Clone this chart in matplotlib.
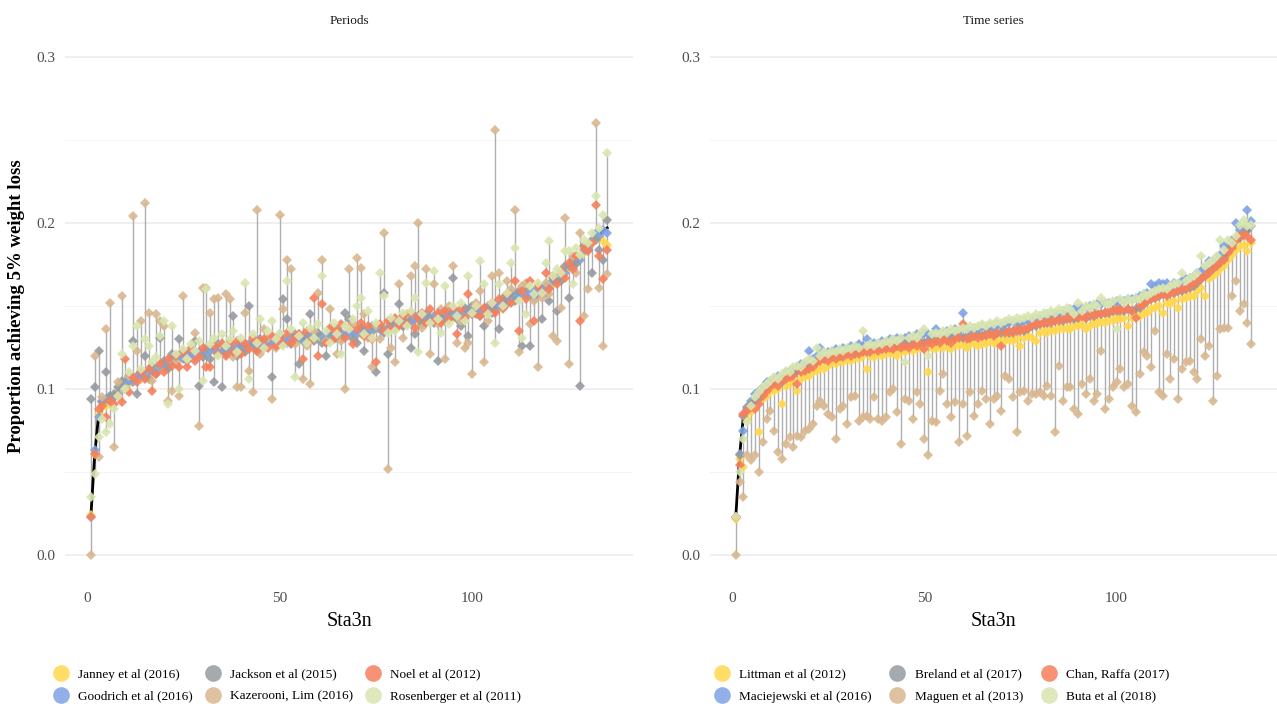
import matplotlib
matplotlib.use("Agg")
import matplotlib.pyplot as plt
from matplotlib.lines import Line2D
import numpy as np

plt.rcParams['font.family'] = ['Liberation Serif', 'DejaVu Serif']

stations = list(range(1, 136))

baseline = [
    .023, .060, .084, .088, .091, .092, .093, .098, .102, .103, .104, .105, .106, .107, .108,
    .109, .110, .111, .112, .113, .115, .117, .118, .119, .119, .120, .120, .120, .121, .121,
    .122, .122, .122, .123, .123, .123, .124, .124, .124, .125, .125, .125, .126, .126, .127,
    .127, .127, .128, .128, .128, .129, .129, .129, .130, .130, .130, .130, .131, .131, .131,
    .131, .131, .132, .132, .132, .133, .133, .133, .133, .134, .134, .134, .134, .135, .135,
    .135, .136, .137, .138, .139, .139, .140, .140, .141, .141, .141, .142, .142, .142, .143,
    .143, .143, .143, .144, .144, .145, .145, .146, .146, .147, .147, .147, .147, .147, .148,
    .149, .151, .152, .154, .155, .156, .156, .157, .157, .158, .158, .159, .160, .161, .162,
    .164, .166, .168, .171, .173, .175, .177, .179, .183, .186, .190, .192, .193, .195, .197]

# ---- Periods panel ----
janney = [
    .024, .061, .085, .089, .090, .094, .095, .099, .103, .104, .103, .106, .107, .106, .109,
    .110, .109, .112, .113, .112, .116, .116, .119, .118, .120, .121, .119, .121, .120, .122,
    .121, .123, .123, .122, .124, .124, .123, .125, .125, .124, .126, .126, .125, .127, .126,
    .128, .128, .127, .129, .129, .128, .130, .130, .131, .129, .131, .131, .130, .132, .132,
    .130, .132, .133, .131, .133, .132, .134, .134, .132, .135, .133, .135, .135, .134, .136,
    .136, .135, .138, .137, .140, .140, .139, .141, .142, .140, .142, .141, .143, .143, .142,
    .144, .144, .142, .145, .143, .146, .146, .145, .147, .146, .148, .148, .146, .148, .149,
    .150, .150, .153, .153, .156, .155, .157, .156, .158, .157, .159, .158, .161, .160, .163,
    .163, .167, .167, .172, .172, .176, .176, .180, .182, .187, .189, .193, .191, .189, .187]
goodrich = [
    .023, .063, .083, .092, .094, .096, .095, .097, .101, .104, .105, .104, .108, .108, .107,
    .111, .111, .110, .114, .115, .114, .118, .119, .120, .118, .121, .121, .119, .122, .122,
    .121, .123, .124, .122, .122, .125, .125, .123, .126, .126, .124, .127, .127, .125, .128,
    .126, .128, .129, .127, .130, .130, .128, .131, .130, .131, .129, .132, .132, .130, .133,
    .132, .130, .133, .133, .131, .134, .132, .134, .134, .133, .135, .136, .133, .135, .137,
    .136, .134, .137, .138, .140, .141, .138, .141, .140, .142, .143, .141, .143, .143, .144,
    .142, .144, .144, .143, .145, .146, .144, .147, .147, .145, .148, .146, .148, .147, .149,
    .151, .150, .152, .155, .154, .156, .157, .158, .156, .158, .159, .157, .161, .162, .161,
    .165, .165, .169, .170, .174, .174, .178, .178, .183, .185, .190, .194, .192, .196, .194]
jackson = [
    .094, .101, .123, .093, .110, .096, .097, .101, .105, .100, .108, .129, .097, .110, .120,
    .106, .114, .109, .131, .117, .112, .121, .115, .130, .122, .117, .124, .129, .102, .119,
    .125, .118, .104, .127, .101, .121, .128, .144, .120, .127, .122, .150, .128, .123, .130,
    .125, .131, .107, .126, .133, .154, .142, .127, .133, .115, .132, .128, .145, .129, .134,
    .128, .120, .135, .130, .136, .131, .146, .142, .130, .128, .137, .123, .132, .138, .110,
    .138, .158, .121, .141, .136, .151, .138, .143, .125, .133, .144, .139, .145, .141, .140,
    .117, .146, .141, .147, .167, .142, .138, .149, .132, .150, .145, .144, .138, .150, .146,
    .147, .136, .155, .151, .158, .153, .159, .126, .161, .126, .155, .162, .142, .158, .153,
    .167, .147, .165, .174, .155, .178, .175, .102, .186, .184, .170, .190, .184, .178, .202]
kazerooni = [
    .000, .120, .059, .095, .136, .152, .065, .104, .156, .100, .108, .204, .123, .141, .212,
    .146, .105, .145, .141, .138, .093, .099, .116, .096, .156, .118, .125, .134, .078, .161,
    .161, .146, .154, .155, .128, .157, .154, .119, .101, .101, .146, .111, .098, .208, .121,
    .136, .131, .094, .125, .205, .148, .178, .172, .127, .133, .106, .126, .103, .135, .158,
    .178, .129, .148, .137, .121, .129, .100, .172, .140, .179, .173, .145, .131, .113, .138,
    .130, .194, .052, .125, .116, .163, .131, .145, .168, .174, .200, .137, .172, .121, .163,
    .139, .148, .118, .150, .174, .128, .141, .125, .128, .109, .152, .159, .116, .141, .168,
    .256, .170, .148, .165, .160, .208, .122, .162, .164, .139, .153, .113, .155, .164, .157,
    .132, .129, .149, .203, .115, .180, .170, .194, .144, .160, .188, .260, .161, .126, .169]
noel = [
    .023, .061, .088, .090, .083, .093, .091, .096, .092, .118, .098, .107, .104, .110, .106,
    .112, .099, .109, .115, .110, .118, .114, .120, .113, .122, .113, .124, .117, .119, .125,
    .113, .113, .126, .121, .127, .120, .128, .122, .129, .121, .128, .124, .131, .123, .129,
    .130, .125, .132, .126, .131, .127, .134, .128, .131, .133, .118, .135, .129, .155, .120,
    .151, .128, .137, .130, .135, .139, .131, .137, .127, .136, .140, .132, .138, .130, .116,
    .139, .135, .141, .136, .143, .138, .144, .139, .146, .137, .143, .146, .140, .148, .141,
    .146, .140, .147, .142, .149, .133, .148, .143, .157, .145, .150, .144, .149, .146, .152,
    .146, .154, .149, .157, .152, .165, .135, .159, .154, .165, .141, .162, .158, .170, .160,
    .168, .163, .171, .167, .176, .172, .180, .141, .185, .183, .188, .211, .180, .166, .184]
rosenberger = [
    .035, .049, .071, .082, .074, .079, .088, .096, .121, .100, .110, .126, .138, .112, .130,
    .126, .116, .119, .132, .141, .091, .138, .121, .100, .124, .118, .127, .123, .129, .105,
    .160, .127, .131, .120, .133, .126, .130, .135, .122, .131, .164, .106, .133, .128, .142,
    .125, .135, .141, .130, .134, .126, .165, .136, .107, .132, .140, .128, .137, .131, .139,
    .168, .135, .128, .140, .133, .121, .138, .136, .142, .150, .155, .133, .147, .131, .140,
    .170, .156, .134, .143, .135, .141, .146, .138, .147, .155, .122, .145, .164, .140, .171,
    .142, .134, .162, .139, .150, .144, .152, .141, .168, .146, .150, .177, .163, .145, .152,
    .128, .163, .150, .158, .176, .185, .153, .131, .145, .162, .157, .164, .158, .176, .189,
    .168, .172, .170, .183, .183, .163, .185, .181, .190, .188, .194, .216, .197, .205, .242]

# ---- Time series panel ----
littman = [
    .022, .058, .053, .082, .086, .088, .074, .094, .096, .099, .099, .100, .091, .102, .103,
    .104, .099, .106, .107, .108, .110, .111, .113, .112, .114, .116, .115, .117, .116, .118,
    .117, .119, .118, .120, .112, .120, .119, .121, .120, .122, .121, .122, .120, .123, .122,
    .124, .123, .124, .125, .124, .110, .125, .124, .126, .125, .126, .124, .127, .126, .127,
    .125, .127, .128, .126, .128, .127, .129, .128, .128, .130, .129, .130, .129, .131, .126,
    .131, .132, .131, .129, .134, .135, .134, .136, .135, .137, .136, .137, .136, .138, .138,
    .139, .136, .138, .140, .139, .141, .140, .142, .141, .143, .142, .143, .138, .143, .144,
    .144, .146, .146, .148, .149, .150, .146, .152, .151, .153, .149, .154, .155, .156, .156,
    .159, .161, .156, .166, .168, .170, .172, .174, .178, .181, .184, .186, .187, .183, .188]
maciejewski = [
    .023, .061, .075, .088, .093, .097, .099, .101, .104, .105, .106, .108, .104, .110, .111,
    .112, .113, .115, .115, .123, .118, .120, .125, .121, .122, .123, .124, .123, .125, .124,
    .126, .125, .127, .126, .130, .127, .128, .127, .129, .128, .130, .129, .131, .130, .131,
    .132, .131, .133, .132, .134, .133, .132, .136, .133, .134, .135, .134, .136, .135, .146,
    .136, .135, .137, .136, .138, .137, .138, .137, .139, .138, .139, .140, .141, .139, .140,
    .141, .141, .142, .143, .144, .144, .145, .145, .146, .146, .147, .147, .148, .148, .149,
    .149, .149, .150, .150, .151, .151, .152, .152, .152, .153, .153, .153, .154, .154, .155,
    .156, .157, .158, .163, .162, .164, .163, .164, .161, .164, .163, .165, .166, .167, .168,
    .170, .171, .173, .177, .177, .179, .181, .186, .186, .190, .200, .196, .197, .208, .201]
breland = [
    .023, .060, .084, .089, .091, .093, .094, .098, .101, .103, .104, .106, .106, .107, .109,
    .109, .111, .111, .112, .114, .115, .117, .118, .118, .120, .120, .121, .120, .121, .122,
    .122, .121, .123, .123, .122, .124, .124, .125, .124, .125, .126, .125, .126, .127, .127,
    .127, .128, .128, .129, .128, .129, .130, .129, .130, .131, .130, .131, .131, .132, .131,
    .132, .131, .132, .133, .132, .133, .134, .133, .134, .134, .135, .134, .135, .135, .136,
    .135, .136, .138, .138, .139, .140, .140, .141, .141, .142, .141, .142, .143, .142, .143,
    .144, .143, .144, .144, .145, .145, .146, .146, .147, .147, .148, .147, .148, .147, .148,
    .149, .151, .153, .154, .155, .156, .157, .157, .158, .158, .159, .159, .160, .161, .162,
    .164, .166, .168, .171, .173, .175, .177, .179, .183, .186, .190, .191, .194, .195, .198]
maguen = [
    .000, .044, .035, .060, .057, .060, .050, .068, .082, .087, .075, .062, .058, .067, .071,
    .065, .072, .071, .075, .076, .079, .090, .093, .090, .085, .083, .070, .088, .090, .079,
    .095, .096, .081, .083, .084, .082, .095, .082, .081, .083, .098, .100, .086, .067, .094,
    .093, .082, .098, .091, .070, .060, .081, .080, .099, .109, .091, .083, .092, .068, .091,
    .072, .098, .084, .091, .099, .094, .079, .094, .096, .087, .108, .106, .095, .074, .098,
    .099, .093, .097, .097, .098, .096, .102, .096, .074, .114, .093, .101, .101, .088, .085,
    .103, .097, .106, .093, .097, .123, .088, .094, .101, .104, .112, .101, .103, .090, .086,
    .109, .122, .120, .113, .135, .098, .096, .121, .106, .118, .094, .112, .116, .117, .110,
    .106, .130, .120, .126, .093, .108, .136, .137, .137, .156, .165, .147, .151, .140, .127]
chan = [
    .023, .054, .085, .087, .089, .088, .091, .096, .099, .101, .103, .102, .105, .106, .107,
    .108, .103, .110, .111, .112, .113, .116, .117, .118, .117, .119, .118, .120, .119, .121,
    .120, .122, .121, .122, .123, .122, .124, .123, .124, .124, .125, .124, .126, .125, .126,
    .125, .127, .126, .128, .124, .128, .127, .129, .128, .130, .129, .128, .130, .131, .139,
    .130, .131, .132, .131, .132, .132, .133, .132, .134, .126, .134, .135, .134, .136, .135,
    .136, .137, .138, .139, .139, .140, .141, .140, .142, .141, .142, .143, .142, .144, .143,
    .144, .143, .145, .144, .146, .145, .146, .147, .147, .148, .147, .148, .148, .147, .143,
    .150, .151, .153, .154, .155, .156, .157, .156, .158, .158, .159, .160, .160, .162, .163,
    .165, .166, .168, .170, .172, .174, .176, .178, .182, .185, .190, .192, .193, .192, .190]
buta = [
    .023, .050, .070, .080, .090, .095, .098, .101, .103, .105, .107, .106, .109, .111, .110,
    .113, .114, .113, .116, .118, .117, .125, .120, .122, .121, .123, .122, .124, .123, .125,
    .124, .126, .125, .135, .126, .127, .126, .128, .127, .129, .128, .130, .129, .131, .116,
    .131, .132, .131, .133, .136, .120, .133, .134, .133, .135, .134, .136, .135, .136, .137,
    .136, .138, .137, .138, .139, .138, .140, .139, .141, .140, .141, .142, .141, .143, .142,
    .143, .144, .143, .145, .144, .146, .145, .147, .146, .148, .147, .149, .148, .145, .152,
    .147, .150, .149, .151, .150, .155, .152, .151, .153, .136, .154, .152, .154, .153, .155,
    .154, .157, .156, .158, .159, .160, .161, .160, .162, .163, .164, .170, .165, .167, .168,
    .170, .180, .174, .176, .178, .180, .190, .184, .190, .188, .192, .199, .202, .198, .199]

periods_names = ["Janney et al (2016)", "Goodrich et al (2016)", "Jackson et al (2015)",
                 "Kazerooni, Lim (2016)", "Noel et al (2012)", "Rosenberger et al (2011)"]
ts_names = ["Littman et al (2012)", "Maciejewski et al (2016)", "Breland et al (2017)",
            "Maguen et al (2013)", "Chan, Raffa (2017)", "Buta et al (2018)"]
colors = ["#FFD84D", "#7EA3E3", "#969BA1", "#D9B78F", "#F6805C", "#D9E6B0"]

periods_series = [janney, goodrich, jackson, kazerooni, noel, rosenberger]
ts_series = [littman, maciejewski, breland, maguen, chan, buta]

W, H = 1277, 704
fig = plt.figure(figsize=(W / 100, H / 100), dpi=100)
axL = fig.add_axes([65 / W, 124 / H, 568 / W, 548 / H])
axR = fig.add_axes([710 / W, 124 / H, 567 / W, 548 / H])

txt = "#4D4D4D"


def draw(ax, series, title):
    x = np.array(stations)
    arr = np.array(series)
    ax.vlines(x, arr.min(axis=0), arr.max(axis=0), color="#AEAEAE", lw=1.0, zorder=1)
    ax.plot(x, baseline, color="black", lw=2.0, zorder=2)
    for s, c in zip(series, colors):
        ax.plot(x, s, linestyle="none", marker="D", markersize=5.2, color=c,
                alpha=0.9, markeredgewidth=0, zorder=3)
    ax.set_xlim(-5.7, 141.7)
    ax.set_ylim(-0.015, 0.315)
    ax.set_yticks([0.0, 0.1, 0.2, 0.3])
    ax.set_yticklabels(["0.0", "0.1", "0.2", "0.3"])
    ax.set_yticks([0.05, 0.15, 0.25], minor=True)
    ax.set_xticks([0, 50, 100])
    ax.grid(axis="y", which="major", color="#EBEBEB", lw=1.1)
    ax.grid(axis="y", which="minor", color="#F4F4F4", lw=0.7)
    ax.set_axisbelow(True)
    for sp in ax.spines.values():
        sp.set_visible(False)
    ax.tick_params(which="both", length=0, labelsize=11, labelcolor=txt)
    ax.tick_params(axis="x", pad=9)
    ax.tick_params(axis="y", pad=7)
    ax.set_xlabel("Sta3n", fontsize=14.5, color="black", labelpad=5)
    ax.set_title(title, fontsize=9.5, color="#1A1A1A", pad=6)


draw(axL, periods_series, "Periods")
draw(axR, ts_series, "Time series")
axL.set_ylabel("Proportion achieving 5% weight loss", fontsize=13.5, fontweight="bold",
               labelpad=8)


def legend(names, anchor_x, colspace):
    handles = [Line2D([], [], linestyle="none", marker="o", markersize=12,
                      color=c, alpha=0.85, markeredgewidth=0) for c in colors]
    fig.legend(handles, names, ncol=3, loc="upper left",
               bbox_to_anchor=(anchor_x, 1 - 663 / H), frameon=False,
               fontsize=9.5, handlelength=1.0, handletextpad=0.8,
               columnspacing=colspace, labelspacing=0.75, borderaxespad=0)


legend(periods_names, 49 / W, 1.0)
legend(ts_names, 710 / W, 1.45)

fig.savefig("out.png", dpi=100)
